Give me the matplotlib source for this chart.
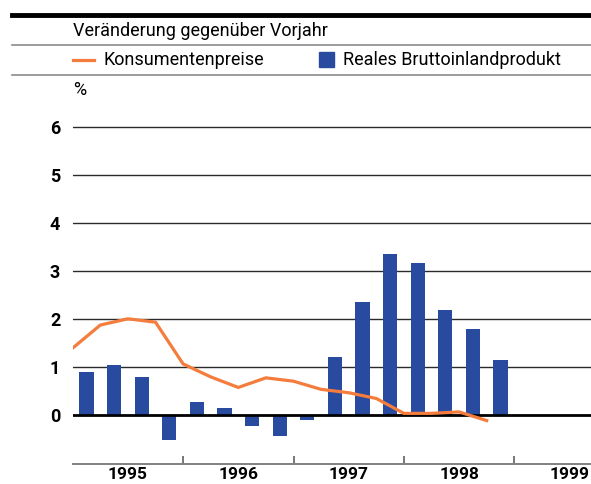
import matplotlib
matplotlib.use("Agg")
import matplotlib.pyplot as plt
from matplotlib.lines import Line2D
from matplotlib.patches import Rectangle
import numpy as np

plt.rcParams['font.family'] = ['Roboto', 'DejaVu Sans']

# Data (quarterly, % change vs previous year)
years = [1995, 1996, 1997, 1998, 1999]
quarters_per_year = 4
gdp = [0.90, 1.05, 0.80, -0.52,
       0.27, 0.15, -0.22, -0.43,
       -0.10, 1.21, 2.37, 3.35,
       3.17, 2.19, 1.79, 1.15]
cpi = [1.40, 1.88, 2.01, 1.94,
       1.07, 0.80, 0.58, 0.78,
       0.71, 0.54, 0.47, 0.35,
       0.04, 0.04, 0.07, -0.11]
yticks = [0, 1, 2, 3, 4, 5, 6]
title = "Veränderung gegenüber Vorjahr"
label_cpi = "Konsumentenpreise"
label_gdp = "Reales Bruttoinlandprodukt"
unit = "%"

W, H = 591, 484
fig = plt.figure(figsize=(W / 100, H / 100), dpi=100)

def fx(x):
    return x / W

def fy(y):
    return 1 - y / H

blue = "#284a9f"
orange = "#f47c3c"

# Axes geometry
ylo, yhi = -1.015, 6.2
zero_px, unit_px = 415.3, 48.0
top_px = zero_px - yhi * unit_px
bottom_px = 464.0
left_px = 72.7
ax = fig.add_axes([fx(left_px), fy(bottom_px), 1 - fx(left_px), fy(top_px) - fy(bottom_px)])

xlo = years[0]
xhi = years[0] + (W - left_px) / 110.4
ax.set_xlim(xlo, xhi)
ax.set_ylim(ylo, yhi)

q = 1.0 / quarters_per_year
bar_x = [years[0] + q / 2 + i * q for i in range(len(gdp))]
line_x = [years[0] + i * q for i in range(len(cpi))]

for v in yticks[1:]:
    ax.axhline(v, color="#2a2a2a", lw=1.0, zorder=1)

ax.bar(bar_x, gdp, width=0.127, color=blue, zorder=2)
ax.axhline(0, color="black", lw=2.0, zorder=3)
ax.plot(line_x, cpi, color=orange, lw=2.3, zorder=4, solid_joinstyle='miter')

for s in ["top", "right", "left"]:
    ax.spines[s].set_visible(False)
ax.spines["bottom"].set_color("#808080")
ax.spines["bottom"].set_linewidth(1.4)

ax.set_yticks(yticks)
ax.set_yticklabels([str(v) for v in yticks], fontsize=13, fontweight="bold")
ax.tick_params(axis="y", length=0, pad=9)

ax.set_xticks(years[1:])
ax.set_xticklabels([])
ax.set_xticks([y + 0.5 for y in years], minor=True)
ax.set_xticklabels([str(y) for y in years], minor=True, fontsize=12.5, fontweight="bold")
ax.tick_params(axis="x", which="major", direction="in", length=5.5, width=1.2, color="#606060")
ax.tick_params(axis="x", which="minor", length=0, pad=2.5)

# Header decorations
fig.add_artist(Line2D([fx(12), 1], [fy(15), fy(15)], color="black", lw=3.5))
fig.add_artist(Line2D([fx(12), 1], [fy(44.5), fy(44.5)], color="#8a8a8a", lw=1.2))
fig.add_artist(Line2D([fx(12), 1], [fy(75.3), fy(75.3)], color="#8a8a8a", lw=1.2))

fs = 13
fig.text(fx(72.7), fy(31.5), title, fontsize=fs, va="center", ha="left")
fig.add_artist(Line2D([fx(72.7), fx(94.3)], [fy(60), fy(60)], color=orange, lw=2.3))
fig.text(fx(103), fy(60), label_cpi, fontsize=fs, va="center", ha="left")
fig.add_artist(Rectangle((fx(319), fy(67)), fx(15), 15 / H, color=blue))
fig.text(fx(342.7), fy(60), label_gdp, fontsize=fs, va="center", ha="left")
fig.text(fx(72.7), fy(90), unit, fontsize=fs, va="center", ha="left")

fig.savefig("out.png", dpi=100)
